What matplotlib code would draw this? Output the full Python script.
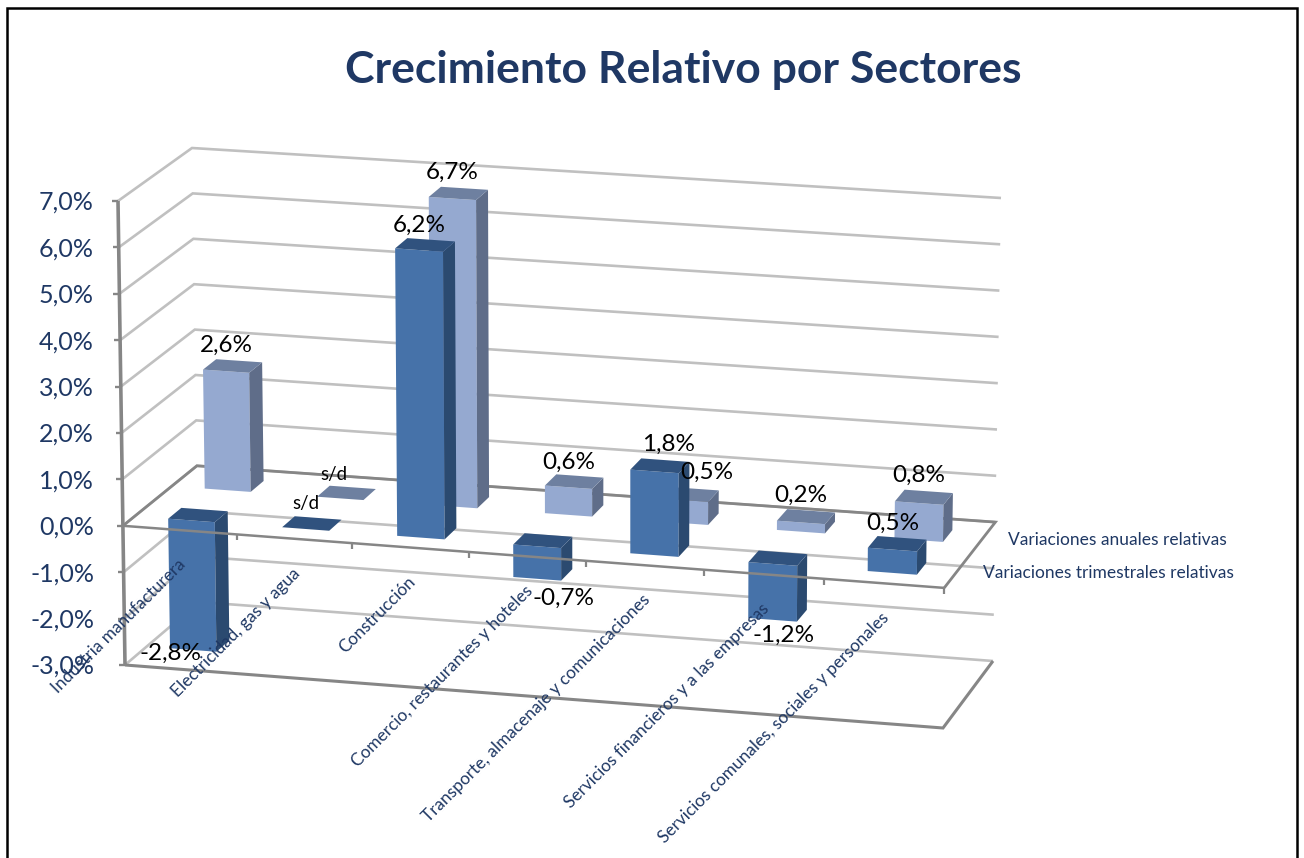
import matplotlib
matplotlib.use('Agg')
import matplotlib.pyplot as plt
from matplotlib.patches import Polygon

plt.rcParams['font.family'] = ['Lato', 'DejaVu Sans']

sectores = ['Industria manufacturera', 'Electricidad, gas y agua', 'Construcción',
            'Comercio, restaurantes y hoteles', 'Transporte, almacenaje y comunicaciones',
            'Servicios financieros y a las empresas', 'Servicios comunales, sociales y personales']
# None = s/d in the original
trimestrales = [-2.8, None, 6.2, -0.7, 1.8, -1.2, 0.5]
anuales = [2.6, None, 6.7, 0.6, 0.5, 0.2, 0.8]
series_names = ['Variaciones trimestrales relativas', 'Variaciones anuales relativas']
y_ticks = [-3, -2, -1, 0, 1, 2, 3, 4, 5, 6, 7]
titulo = 'Crecimiento Relativo por Sectores'

NAVY = '#1F3864'
GRID = '#C0C0C0'
AXIS = '#868686'

# corners of the 3d box in pixels (depth, value)
FL_LOW, FL_HIGH = (125, 665), (118, 201)
FR_LOW, FR_HIGH = (943, 728), (947, 261)
BL_LOW, BL_HIGH = (199, 602), (192, 148)
BR_LOW, BR_HIGH = (993, 661), (1001, 198)


def lerp(a, b, t):
    return (a[0] + (b[0] - a[0]) * t, a[1] + (b[1] - a[1]) * t)


def project(cat, depth, val):
    # cat in categories (0..7), depth 0 front..1 back, val in percent
    u = cat / 7
    u = u / (1 + 0.032 * (1 - u))
    t = (val + 3) / 10
    left = lerp(lerp(FL_LOW, FL_HIGH, t), lerp(BL_LOW, BL_HIGH, t), depth)
    right = lerp(lerp(FR_LOW, FR_HIGH, t), lerp(BR_LOW, BR_HIGH, t), depth)
    return lerp(left, right, u)


def line3d(ax, pts, color, lw, z):
    ax.plot([p[0] for p in pts], [p[1] for p in pts], color=color, lw=lw, zorder=z,
            solid_capstyle='butt', solid_joinstyle='miter')


def bar(ax, i, depth, val, cols, z):
    x0, x1 = i + 0.5 - 0.205, i + 0.5 + 0.205
    d0, d1 = depth - 0.09, depth + 0.09
    v = 0 if val is None else val
    hi, lo = max(v, 0), min(v, 0)
    front, side, top = cols
    if val is not None:
        ax.add_patch(Polygon([project(x0, d0, lo), project(x1, d0, lo), project(x1, d0, hi), project(x0, d0, hi)],
                             fc=front, ec='none', zorder=z))
        ax.add_patch(Polygon([project(x1, d0, lo), project(x1, d1, lo), project(x1, d1, hi), project(x1, d0, hi)],
                             fc=side, ec='none', zorder=z))
    ax.add_patch(Polygon([project(x0, d0, hi), project(x1, d0, hi), project(x1, d1, hi), project(x0, d1, hi)],
                         fc=top, ec='none', zorder=z))


fig = plt.figure(figsize=(13.04, 8.58), dpi=100)
ax = fig.add_axes([0, 0, 1, 1])
ax.set_xlim(0, 1304)
ax.set_ylim(858, 0)
ax.axis('off')

# chart frame
line3d(ax, [(7, 858), (7, 8), (1297, 8), (1297, 858)], 'black', 1.8, 10)

# walls
for v in y_ticks:
    line3d(ax, [project(0, 0, v), project(0, 1, v), project(7, 1, v)], GRID, 1.9, 1)
    a = project(0, 0, v)
    line3d(ax, [(a[0] - 6, a[1]), a], AXIS, 1.7, 2)
    ax.text(94, a[1] + 1.5, f'{v:.1f}%'.replace('.', ','), ha='right', va='center', fontsize=18, color=NAVY, zorder=6)

line3d(ax, [project(0, 0, -3), project(0, 0, 7)], AXIS, 2.6, 2)

# floors
line3d(ax, [project(0, 0, 0), project(0, 1, 0), project(7, 1, 0), project(7, 0, 0)], AXIS, 2, 2)
line3d(ax, [project(0, 0, -3), project(7, 0, -3), project(7, 1, -3)], AXIS, 2.2, 2)

# bars, back row first
cols_front = ('#4672A9', '#2B4A70', '#30527E')
cols_back = ('#95A9D0', '#5F6D89', '#6E80A0')
for i in range(7):
    bar(ax, i, 0.75, anuales[i], cols_back, 3)
for i in range(7):
    bar(ax, i, 0.25, trimestrales[i], cols_front, 4)

# front zero line goes over the negative bars
line3d(ax, [project(0, 0, 0), project(7, 0, 0)], AXIS, 1.8, 5)
for i in range(1, 8):
    p = project(i, 0, 0)
    line3d(ax, [p, (p[0], p[1] + 6)], AXIS, 1.6, 5)

# data labels, offsets from the front centre of each bar
off_trim = [(-23, 3), (0, -25), (0, -25), (26, 20), (14, -27), (11, 16), (0, -26)]
off_anual = [(0, -26), (-6, -24), (0, -26), (0, -25), (23, -28), (0, -27), (0, -28)]
for vals, depth, offs in [(anuales, 0.66, off_anual), (trimestrales, 0.16, off_trim)]:
    for i, val in enumerate(vals):
        p = project(i + 0.5, depth, 0 if val is None else val)
        if val is None:
            ax.text(p[0] + offs[i][0], p[1] + offs[i][1], 's/d', ha='center', va='center', fontsize=13.5, color='black', zorder=8)
        else:
            ax.text(p[0] + offs[i][0], p[1] + offs[i][1], f'{val:.1f}%'.replace('.', ','),
                    ha='center', va='center', fontsize=17.5, color='black', zorder=8)

# category labels
for i, name in enumerate(sectores):
    p = project(i + 0.5, 0, 0)
    ax.text(p[0] + 3, p[1] + 32, name, rotation=45, rotation_mode='anchor', ha='right', va='center',
            fontsize=12.4, color=NAVY, zorder=7)

# series labels on the depth axis
ax.text(1008, 540, series_names[1], ha='left', va='center', fontsize=12.5, color=NAVY, zorder=7)
ax.text(983, 573, series_names[0], ha='left', va='center', fontsize=12.5, color=NAVY, zorder=7)

ax.text(683, 70, titulo, ha='center', va='center', fontsize=32, fontweight='bold', color=NAVY, zorder=7)

fig.savefig('out.png', dpi=100)
